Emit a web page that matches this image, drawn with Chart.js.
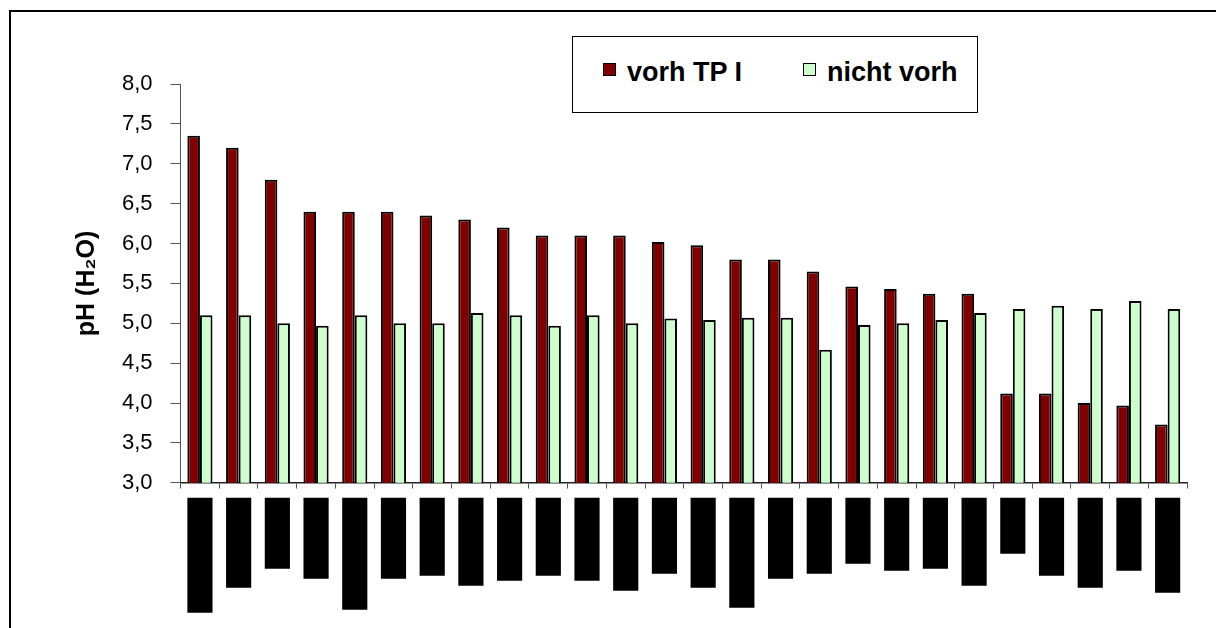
<!DOCTYPE html>
<html>
<head>
<meta charset="utf-8">
<script src="https://cdn.jsdelivr.net/npm/chart.js@4.4.0/dist/chart.umd.min.js"></script>
<style>
html,body{margin:0;padding:0;background:#fff;overflow:hidden;width:1216px;height:628px}
#wrap{position:relative;width:1216px;height:628px;overflow:hidden}
#frame{position:absolute;left:9px;top:10px;width:1400px;height:800px;border:2px solid #000;box-sizing:border-box}
canvas{position:absolute;left:0;top:0}
#legend{position:absolute;left:572px;top:36px;width:406px;height:77px;border:1px solid #000;box-sizing:border-box;background:#fff;font-family:'Liberation Sans',Arial,sans-serif;font-weight:bold;font-size:27px;color:#000}
.sw{position:absolute;top:26px;width:13px;height:13px;border:1px solid #000;box-sizing:border-box}
.tx{position:absolute;top:22px;line-height:27px;white-space:nowrap}
</style>
</head>
<body>
<div id="wrap">
  <div id="frame"></div>
  <canvas id="c" width="1216" height="628"></canvas>
  <div id="legend">
    <div class="sw" style="left:30px;background:#800000"></div>
    <div class="tx" style="left:54px">vorh TP I</div>
    <div class="sw" style="left:230px;background:#CCFFCC"></div>
    <div class="tx" style="left:254px">nicht vorh</div>
  </div>
</div>
<script>
// ---- data ----
const categories = ['1','2','3','4','5','6','7','8','9','10','11','12','13',
                    '14','15','16','17','18','19','20','21','22','23','24','25','26'];
const vorhTP = [7.35, 7.20, 6.80, 6.40, 6.40, 6.40, 6.35, 6.30, 6.20, 6.10, 6.10, 6.10, 6.02,
                5.98, 5.80, 5.80, 5.65, 5.46, 5.43, 5.37, 5.37, 4.12, 4.12, 4.00, 3.97, 3.73];
const nichtVorh = [5.10, 5.10, 5.00, 4.97, 5.10, 5.00, 5.00, 5.13, 5.10, 4.97, 5.10, 5.00, 5.06,
                   5.04, 5.07, 5.07, 4.67, 4.98, 5.00, 5.04, 5.13, 5.18, 5.22, 5.18, 5.28, 5.18];
// lengths of the (blacked-out) category labels below the axis
const labelLengths = [115, 90, 71, 81, 112, 81, 78, 88, 83, 78, 83, 93, 76,
                      90, 110, 81, 76, 66, 73, 71, 88, 56, 78, 90, 73, 95];
const yTickValues = [3.0, 3.5, 4.0, 4.5, 5.0, 5.5, 6.0, 6.5, 7.0, 7.5, 8.0];

const FONT = "'Liberation Sans', Arial, sans-serif";

const chart = new Chart(document.getElementById('c'), {
  type: 'bar',
  data: {
    labels: categories,
    datasets: [
      { label: 'vorh TP I', data: vorhTP, backgroundColor: '#800000', borderColor: '#000',
        borderWidth: 2, yAxisID: 'y', categoryPercentage: 0.65, barPercentage: 1 },
      { label: 'nicht vorh', data: nichtVorh, backgroundColor: '#CCFFCC', borderColor: '#000',
        borderWidth: 2, yAxisID: 'y', categoryPercentage: 0.65, barPercentage: 1 },
      { label: 'Beschriftung', data: labelLengths, backgroundColor: '#000', borderWidth: 0,
        yAxisID: 'yLab', grouped: false, clip: false, categoryPercentage: 0.65, barPercentage: 1 }
    ]
  },
  options: {
    responsive: false,
    animation: false,
    layout: { padding: { left: 72, right: 29, top: 84, bottom: 5 } },
    plugins: { legend: { display: false }, tooltip: { enabled: false } },
    scales: {
      yLab: {
        type: 'linear', position: 'left', stack: 'v', stackWeight: 114,
        reverse: true, min: -15, max: 99, display: false
      },
      y: {
        type: 'linear', position: 'left', stack: 'v', stackWeight: 399,
        min: 3, max: 8,
        afterBuildTicks: s => { s.ticks = yTickValues.map(v => ({ value: v })); },
        ticks: {
          color: '#000', padding: 18, autoSkip: false,
          font: { family: FONT, size: 22 },
          callback: v => Number(v).toFixed(1).replace('.', ',')
        },
        grid: { drawOnChartArea: false, tickLength: 10, color: '#555', lineWidth: 1 },
        border: { color: '#555', width: 1 },
        title: {
          display: true, text: 'pH (H₂O)', color: '#000',
          font: { family: FONT, size: 25, weight: 'bold' },
          padding: { top: 0, bottom: 2 }
        }
      },
      x: {
        type: 'category', position: { y: 3 }, offset: true,
        ticks: { display: false },
        grid: { drawOnChartArea: false, tickLength: 5, offset: true, color: '#555' },
        border: { color: '#222', width: 1.5 }
      }
    }
  }
});
</script>
</body>
</html>
